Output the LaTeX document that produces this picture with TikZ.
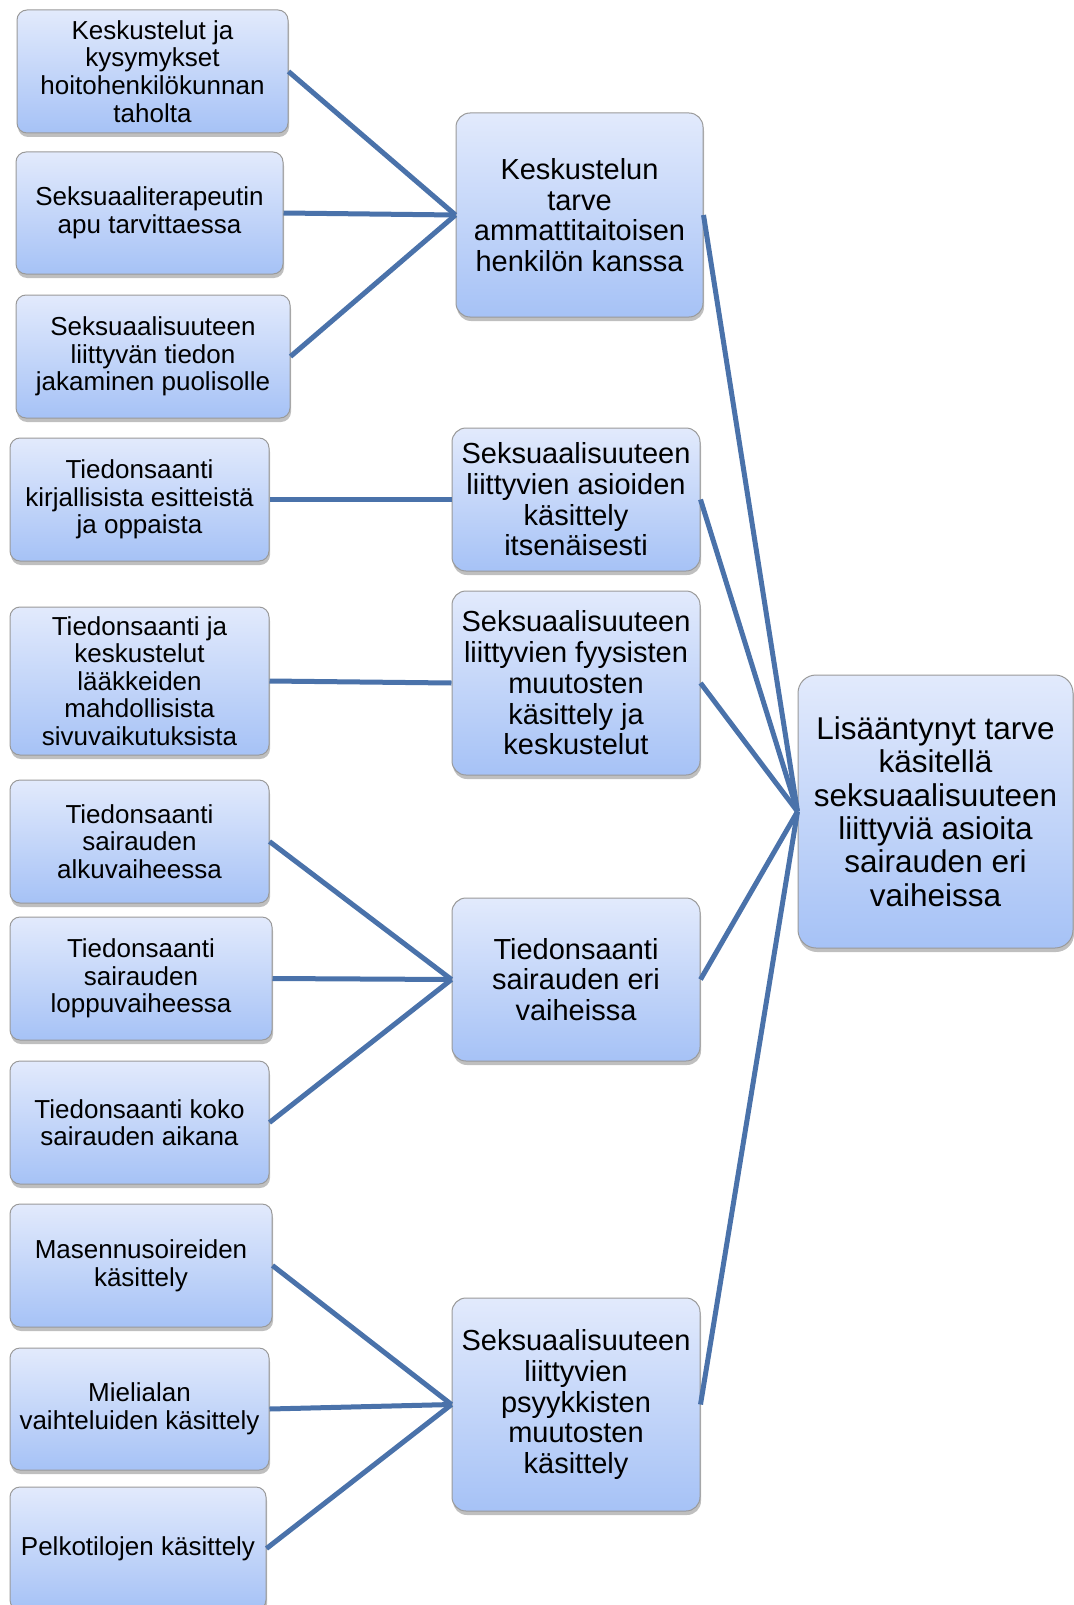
\documentclass[tikz,border=0pt]{standalone}
\usepackage{fontspec}
\setmainfont{Liberation Sans}
\usetikzlibrary{shadows}
\definecolor{linec}{HTML}{4A72AA}
\definecolor{topc}{HTML}{E2EAFC}
\definecolor{botc}{HTML}{A6C2F6}
\definecolor{bordc}{HTML}{9A9A9A}
\tikzset{
  box/.style={draw=bordc, line width=1pt, rounded corners=10pt, top color=topc, bottom color=botc,
    align=center, inner sep=0pt, anchor=center,
    drop shadow={shadow xshift=1pt, shadow yshift=-4pt, opacity=0.25, fill=black}},
  lbox/.style={box, font=\fontsize{26}{27.6}\selectfont},
  mbox/.style={box, rounded corners=14pt, font=\fontsize{29}{30.7}\selectfont},
  rbox/.style={box, rounded corners=18pt, font=\fontsize{31.5}{33.3}\selectfont},
  conn/.style={draw=linec, line width=5pt}
}
\begin{document}
\begin{tikzpicture}[x=1pt,y=-1pt]
\useasboundingbox (0,0) rectangle (1073,1605);
% left column
\node[lbox, minimum width=271pt, minimum height=123pt] (l1) at (152.5,71.5) {Keskustelut ja\\kysymykset\\hoitohenkilökunnan\\taholta};
\node[lbox, minimum width=267pt, minimum height=122pt] (l2) at (149.5,213) {Seksuaaliterapeutin\\apu tarvittaessa};
\node[lbox, minimum width=274pt, minimum height=123pt] (l3) at (153,356.5) {Seksuaalisuuteen\\liittyvän tiedon\\jakaminen puolisolle};
\node[lbox, minimum width=259pt, minimum height=123pt] (l4) at (139.5,499.5) {Tiedonsaanti\\kirjallisista esitteistä\\ja oppaista};
\node[lbox, minimum width=259pt, minimum height=148pt] (l5) at (139.5,681) {Tiedonsaanti ja\\keskustelut\\lääkkeiden\\mahdollisista\\sivuvaikutuksista};
\node[lbox, minimum width=259pt, minimum height=123pt] (l6) at (139.5,841.5) {Tiedonsaanti\\sairauden\\alkuvaiheessa};
\node[lbox, minimum width=262pt, minimum height=123pt] (l7) at (141,978.5) {Tiedonsaanti\\sairauden\\loppuvaiheessa};
\node[lbox, minimum width=259pt, minimum height=123pt] (l8) at (139.5,1122.5) {Tiedonsaanti koko\\sairauden aikana};
\node[lbox, minimum width=262pt, minimum height=123pt] (l9) at (141,1265.5) {Masennusoireiden\\käsittely};
\node[lbox, minimum width=259pt, minimum height=122pt] (l10) at (139.5,1409) {Mielialan\\vaihteluiden käsittely};
\node[lbox, minimum width=256pt, minimum height=123pt] (l11) at (138,1548.5) {Pelkotilojen käsittely};
% middle column
\node[mbox, minimum width=247pt, minimum height=204pt] (mA) at (579.5,215) {Keskustelun\\tarve\\ammattitaitoisen\\henkilön kanssa};
\node[mbox, minimum width=248pt, minimum height=143pt] (mB) at (576,499.5) {Seksuaalisuuteen\\liittyvien asioiden\\käsittely\\itsenäisesti};
\node[mbox, minimum width=248pt, minimum height=184pt] (mC) at (576,683) {Seksuaalisuuteen\\liittyvien fyysisten\\muutosten\\käsittely ja\\keskustelut};
\node[mbox, minimum width=248pt, minimum height=163pt] (mD) at (576,979.5) {Tiedonsaanti\\sairauden eri\\vaiheissa};
\node[mbox, minimum width=248pt, minimum height=213pt] (mE) at (576,1404.5) {Seksuaalisuuteen\\liittyvien\\psyykkisten\\muutosten\\käsittely};
% right
\node[rbox, minimum width=275pt, minimum height=273pt] (R) at (935.5,811.5) {Lisääntynyt tarve\\käsitellä\\seksuaalisuuteen\\liittyviä asioita\\sairauden eri\\vaiheissa};
% connectors
\draw[conn] (l1.east) -- (mA.west);
\draw[conn] (l2.east) -- (mA.west);
\draw[conn] (l3.east) -- (mA.west);
\draw[conn] (l4.east) -- (mB.west);
\draw[conn] (l5.east) -- (mC.west);
\draw[conn] (l6.east) -- (mD.west);
\draw[conn] (l7.east) -- (mD.west);
\draw[conn] (l8.east) -- (mD.west);
\draw[conn] (l9.east) -- (mE.west);
\draw[conn] (l10.east) -- (mE.west);
\draw[conn] (l11.east) -- (mE.west);
\draw[conn] (mA.east) -- (R.west);
\draw[conn] (mB.east) -- (R.west);
\draw[conn] (mC.east) -- (R.west);
\draw[conn] (mD.east) -- (R.west);
\draw[conn] (mE.east) -- (R.west);
\end{tikzpicture}
\end{document}
